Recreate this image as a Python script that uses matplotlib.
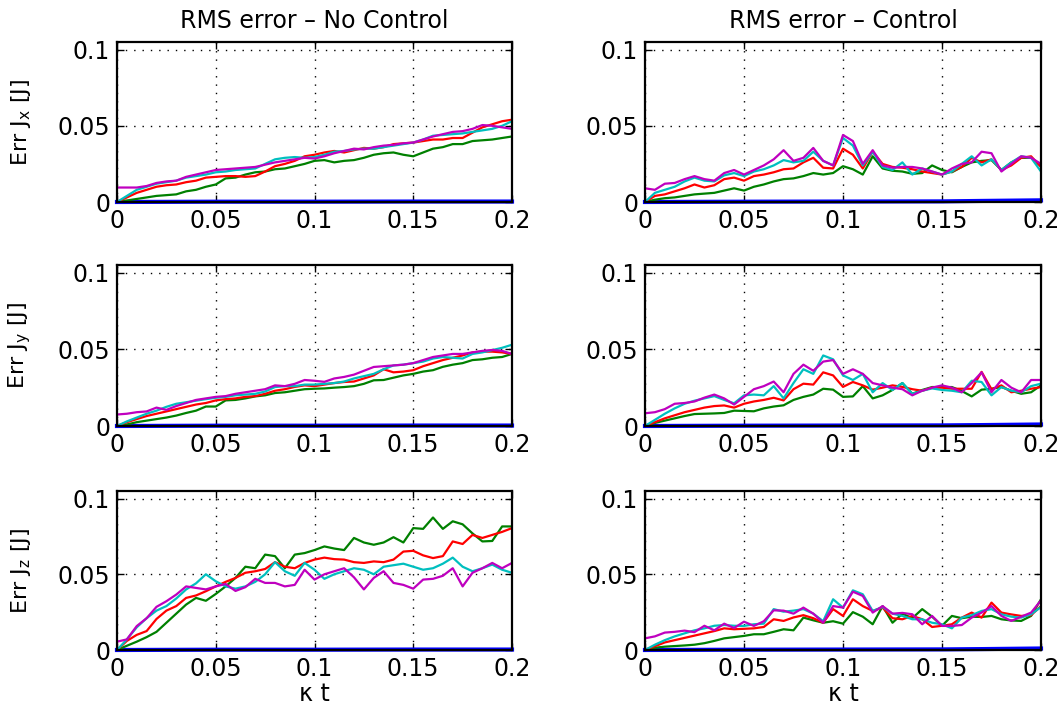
import numpy as np
import matplotlib.pyplot as plt

plt.rcParams['font.family'] = 'DejaVu Sans'
plt.rcParams['mathtext.default'] = 'regular'

# time axis (kappa t), sampled every 0.005
t = np.linspace(0, 0.2, 41)
t_blue = [0, 0.05, 0.1, 0.15, 0.17, 0.2]

# ---- no control ----
nc_x_blue = [0, 0.0002, 0.0002, 0.0003, 0.0003, 0.0003]
nc_x_green = [0, .001, .002, .003, .004, .0045, .005, .007, .008, .010,
              .0115, .0155, .016, .018, .0195, .020, .0215, .022, .0235, .025,
              .027, .0275, .026, .027, .0275, .029, .031, .032, .0325, .031,
              .030, .0325, .035, .036, .038, .038, .040, .0405, .041, .042,
              .043]
nc_x_red = [0, .003, .006, .008, .010, .011, .0115, .013, .014, .016,
            .0165, .017, .017, .0165, .017, .020, .0235, .025, .027, .030,
            .031, .0325, .0335, .0325, .034, .0355, .035, .036, .038, .0385,
            .039, .040, .041, .041, .042, .042, .0455, .049, .051, .053,
            .054]
nc_x_cyan = [0, .004, .008, .010, .012, .013, .014, .016, .017, .018,
             .0195, .020, .021, .0215, .022, .025, .028, .029, .0295, .029,
             .0295, .031, .033, .0335, .0345, .035, .035, .036, .037, .038,
             .039, .041, .0435, .044, .0445, .045, .046, .047, .048, .050,
             .053]
nc_x_magenta = [.0095, .0095, .0095, .0105, .0125, .0135, .014, .0165, .018, .0195,
                .021, .0215, .022, .0225, .023, .0245, .026, .027, .028, .029,
                .0285, .030, .032, .0335, .035, .0345, .036, .037, .0375, .0385,
                .039, .041, .043, .0445, .046, .0465, .048, .0505, .050, .049,
                .048]

nc_y_blue = [0, 0.0002, 0.0002, 0.0003, 0.0003, 0.0003]
nc_y_green = [0, .001, .0025, .0035, .0045, .0055, .0068, .0085, .010, .0127,
              .0127, .0167, .017, .018, .0193, .020, .0215, .022, .023, .024,
              .0243, .0245, .025, .0254, .026, .0275, .0298, .030, .0315, .033,
              .034, .0355, .0364, .0386, .040, .041, .043, .0435, .0445, .045,
              .047]
nc_y_red = [0, .0025, .0045, .0065, .008, .0095, .011, .0125, .014, .015,
            .0167, .0175, .018, .019, .0195, .021, .023, .024, .0255, .0265,
            .026, .027, .028, .0287, .029, .031, .033, .037, .035, .0355,
            .0364, .039, .041, .043, .0445, .046, .048, .0485, .0485, .048,
            .047]
nc_y_cyan = [0, .003, .0055, .008, .010, .0125, .0145, .0155, .0165, .0175,
             .0184, .019, .020, .0205, .021, .0225, .0254, .026, .026, .027,
             .027, .0275, .028, .029, .031, .0325, .034, .037, .0395, .040,
             .041, .042, .044, .045, .0445, .044, .047, .048, .0495, .051,
             .053]
nc_y_magenta = [.0075, .008, .009, .0095, .012, .0105, .013, .015, .017, .018,
                .019, .0195, .021, .022, .023, .024, .0265, .026, .0275, .030,
                .0295, .0288, .031, .032, .0335, .036, .0385, .039, .0395, .040,
                .041, .043, .045, .046, .047, .047, .048, .049, .0496, .049,
                .047]

nc_z_blue = [0, 0.0002, 0.0002, 0.0003, 0.0003, 0.0003]
nc_z_green = [0, .0028, .0055, .0085, .012, .018, .024, .030, .0344, .0325,
              .037, .042, .0476, .055, .054, .063, .062, .054, .063, .064,
              .066, .0684, .067, .066, .074, .071, .0695, .071, .0745, .071,
              .0805, .080, .0875, .080, .085, .083, .077, .0717, .072, .0816,
              .0816]
nc_z_red = [0, .006, .010, .0125, .0205, .026, .029, .0344, .036, .0388,
            .042, .045, .0476, .051, .052, .0535, .058, .055, .054, .0575,
            .0597, .061, .060, .0597, .058, .0575, .0585, .058, .0597, .065,
            .0655, .0625, .0607, .062, .0717, .070, .076, .074, .076, .078,
            .0805]
nc_z_cyan = [0, .007, .015, .021, .026, .029, .034, .040, .044, .050,
             .0454, .042, .0405, .042, .045, .050, .058, .052, .049, .0575,
             .053, .047, .050, .052, .054, .053, .050, .055, .056, .057,
             .055, .053, .054, .057, .061, .055, .052, .054, .0564, .053,
             .051]
nc_z_magenta = [.0055, .007, .0158, .021, .0285, .0322, .0366, .042, .041, .040,
                .042, .0436, .039, .0415, .047, .0443, .0443, .042, .043, .053,
                .0465, .050, .052, .054, .048, .040, .0476, .052, .0443, .043,
                .0405, .0465, .047, .049, .054, .042, .051, .054, .0575, .054,
                .0575]

# ---- control ----
c_x_blue = [0, 0.0002, 0.0003, 0.0004, 0.0007, 0.0011]
c_x_green = [0, .0015, .0025, .003, .004, .005, .0055, .006, .0075, .009,
             .0075, .010, .0115, .0135, .015, .0155, .017, .019, .018, .019,
             .0235, .0215, .018, .030, .022, .0205, .020, .0185, .019, .024,
             .021, .0195, .023, .026, .027, .0275, .021, .026, .029, .029,
             .0235]
c_x_red = [0, .004, .005, .007, .009, .0115, .0095, .011, .015, .016,
           .014, .017, .018, .0195, .0215, .022, .026, .029, .0225, .022,
           .035, .031, .022, .033, .025, .023, .0225, .0215, .020, .019,
           .018, .020, .023, .029, .026, .028, .021, .024, .029, .030,
           .023]
c_x_cyan = [0, .006, .008, .010, .0135, .016, .014, .0135, .0175, .019,
            .017, .020, .0215, .024, .0275, .026, .027, .033, .027, .024,
            .042, .037, .024, .033, .023, .021, .026, .018, .022, .020,
            .018, .020, .025, .030, .024, .028, .021, .026, .030, .029,
            .020]
c_x_magenta = [.009, .008, .012, .0125, .015, .017, .015, .014, .019, .021,
               .018, .021, .024, .028, .034, .027, .029, .0355, .027, .024,
               .044, .040, .025, .034, .024, .0225, .023, .023, .022, .020,
               .018, .022, .025, .026, .033, .032, .020, .025, .030, .029,
               .025]

c_y_blue = [0, 0.0002, 0.0003, 0.0004, 0.0006, 0.0010]
c_y_green = [0, .002, .0035, .005, .0065, .0078, .008, .0082, .0085, .010,
             .0098, .0096, .0115, .0127, .0135, .017, .019, .0205, .0243, .0237,
             .019, .0193, .026, .018, .020, .0235, .028, .021, .0235, .0254,
             .0254, .0254, .0228, .0193, .0237, .0243, .0254, .023, .021, .022,
             .0265]
c_y_red = [0, .0025, .005, .007, .009, .0105, .012, .013, .0134, .012,
           .0145, .016, .017, .0184, .0167, .024, .0276, .027, .035, .033,
           .0255, .0287, .0265, .0237, .025, .0265, .0255, .024, .023, .025,
           .025, .0243, .0243, .0243, .0353, .024, .0265, .022, .023, .0243,
           .0254]
c_y_cyan = [0, .004, .008, .0115, .0145, .0165, .018, .0195, .017, .0148,
            .020, .0205, .020, .026, .018, .028, .037, .034, .046, .0435,
            .033, .030, .034, .022, .028, .0235, .028, .021, .023, .0245,
            .0235, .023, .022, .0295, .0287, .020, .0254, .023, .022, .026,
            .0276]
c_y_magenta = [.0083, .009, .011, .0145, .015, .016, .0185, .0205, .018, .014,
               .019, .024, .026, .029, .022, .034, .040, .036, .042, .043,
               .034, .037, .034, .028, .0265, .025, .024, .020, .023, .025,
               .0265, .025, .022, .028, .035, .022, .030, .025, .022, .030,
               .030]

c_z_blue = [0, 0.0002, 0.0003, 0.0004, 0.0006, 0.0010]
c_z_green = [0, .0015, .0022, .0026, .003, .0035, .0045, .006, .0077, .0085,
             .0093, .0104, .0104, .012, .0137, .013, .0214, .0196, .018, .019,
             .0174, .025, .022, .017, .029, .018, .024, .021, .027, .022,
             .016, .0225, .021, .022, .0218, .0225, .0203, .0195, .0192, .0225,
             .0335]
c_z_red = [0, .0025, .005, .0065, .008, .0095, .011, .0125, .0143, .0137,
           .014, .0143, .0152, .0203, .0192, .0215, .023, .021, .018, .027,
           .0225, .0335, .029, .0258, .028, .021, .0203, .0225, .0203, .0152,
           .016, .017, .0214, .0247, .0214, .0313, .0247, .0235, .0225, .023,
           .029]
c_z_cyan = [0, .0035, .0065, .009, .011, .013, .0143, .016, .0165, .016,
            .0159, .017, .0174, .027, .0253, .026, .027, .024, .019, .0335,
            .028, .0394, .0368, .0258, .0284, .024, .0225, .0203, .0203, .018,
            .017, .0143, .0214, .023, .0258, .027, .0236, .022, .0214, .0236,
            .0284]
c_z_magenta = [.0077, .009, .0115, .012, .0128, .0118, .016, .013, .0174, .0145,
               .0187, .0159, .019, .0262, .026, .024, .028, .024, .018, .029,
               .028, .0385, .0357, .0247, .029, .024, .0245, .0236, .017, .0225,
               .0159, .0159, .0165, .0214, .0247, .029, .0225, .0192, .022, .0247,
               .0328]

titles = ['RMS error \u2013 No Control', 'RMS error \u2013 Control']
ylabels = ['Err J$_x$ [J]', 'Err J$_y$ [J]', 'Err J$_z$ [J]']
xticks = [0, 0.05, 0.1, 0.15, 0.2]
xticklabels = ['0', '0.05', '0.1', '0.15', '0.2']
yticks = [0, 0.05, 0.1]
yticklabels = ['0', '0.05', '0.1']

colors = ['#0000ff', '#008000', '#ff0000', '#00bfbf', '#bf00bf']

panels = [
    [(nc_x_blue, nc_x_green, nc_x_red, nc_x_cyan, nc_x_magenta),
     (c_x_blue, c_x_green, c_x_red, c_x_cyan, c_x_magenta)],
    [(nc_y_blue, nc_y_green, nc_y_red, nc_y_cyan, nc_y_magenta),
     (c_y_blue, c_y_green, c_y_red, c_y_cyan, c_y_magenta)],
    [(nc_z_blue, nc_z_green, nc_z_red, nc_z_cyan, nc_z_magenta),
     (c_z_blue, c_z_green, c_z_red, c_z_cyan, c_z_magenta)],
]

W, H = 1058, 710
fig = plt.figure(figsize=(W / 100, H / 100), dpi=100)

col_left = [117, 645]
col_width = [395, 396]
row_top = [42, 265, 491]
row_bottom = [202, 426, 650]
fs = 17

for r in range(3):
    for c in range(2):
        ax = fig.add_axes([col_left[c] / W, 1 - row_bottom[r] / H,
                           col_width[c] / W, (row_bottom[r] - row_top[r]) / H])
        blue, green, red, cyan, magenta = panels[r][c]
        ax.plot(t_blue, blue, color=colors[0], lw=3, zorder=2, clip_on=False)
        for ys, col in zip([green, red, cyan, magenta], colors[1:]):
            ax.plot(t, ys, color=col, lw=1.6, zorder=2)

        ax.set_xlim(0, 0.2)
        ax.set_ylim(0, 0.105)
        ax.set_xticks(xticks)
        ax.set_xticklabels(xticklabels)
        ax.set_yticks(yticks)
        ax.set_yticklabels(yticklabels)
        ax.grid(True, color='black', linestyle=(0, (1, 5)), linewidth=1.0)
        ax.tick_params(direction='in', top=True, right=True, length=5,
                       width=1, labelsize=fs, pad=5)
        for s in ax.spines.values():
            s.set_linewidth(1.6)
            s.set_zorder(2.5)

        if r == 0:
            ax.set_title(titles[c], fontsize=fs, pad=10)
        if c == 0:
            ax.set_ylabel(ylabels[r], fontsize=16)
            ax.yaxis.set_label_coords(-0.212, 0.5)
        if r == 2:
            ax.set_xlabel('\u03ba t', fontsize=fs, labelpad=1)

plt.savefig('out.png', dpi=100)
plt.close()
